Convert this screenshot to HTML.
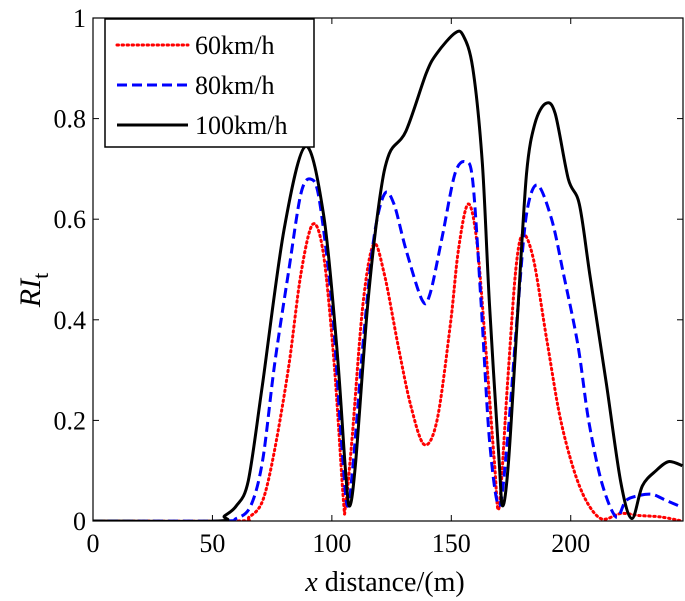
<!DOCTYPE html>
<html><head><meta charset="utf-8"><style>
body{margin:0;background:#fff;}
svg{display:block;font-family:"Liberation Serif",serif;}
</style></head><body>
<svg id="chart" width="685" height="601" viewBox="0 0 685 601"></svg>
<script>
const xTicks=[0,50,100,150,200];
const yTicks=[0,0.2,0.4,0.6,0.8,1];
const yTickLabels=["0","0.2","0.4","0.6","0.8","1"];
const seriesNames=["60km/h","80km/h","100km/h"];
const x60=[0,60,65.4,71,76,82,87,92,96.5,101,104.8,105.7,108.4,113,117.5,122,127.7,133,138.6,144,149.6,153,157,160.6,164.3,168,170,173.5,177,180,184.4,190,195.4,201,206.5,213,221,228.6,237.8,246.7];
const y60=[0,0,0.008,0.04,0.14,0.31,0.49,0.59,0.53,0.31,0.045,0.03,0.16,0.43,0.55,0.49,0.35,0.23,0.152,0.2,0.39,0.54,0.63,0.56,0.35,0.12,0.027,0.27,0.5,0.57,0.52,0.36,0.21,0.106,0.04,0.004,0.015,0.011,0.008,0];
const x80=[0,52.5,60,66,71,76,82,87,91,94.7,100,104,106.5,109,113,117.5,122,126,131,137.7,141,146,151.5,156,159,162.5,166,170,173.5,178,181.5,186,192,197,203,207.5,213,219,223,228,234,239.5,246.7];
const y80=[0,0,0.005,0.03,0.12,0.31,0.5,0.65,0.68,0.64,0.43,0.16,0.03,0.12,0.35,0.56,0.65,0.63,0.54,0.44,0.45,0.56,0.69,0.714,0.675,0.43,0.16,0.03,0.16,0.43,0.61,0.668,0.6,0.49,0.35,0.2,0.076,0.008,0.04,0.05,0.053,0.042,0.027];
const x100=[0,52,55,60,65,70.9,80,89,96.5,102,105.7,107.5,110,115,120,124,131,139.5,144,151.5,155,159,163,166,170,171.5,174,178,181.5,185,189.5,193.5,199,203.6,208,215,221,225.6,230,235.7,241,246.7];
const y100=[0,0,0.01,0.03,0.08,0.27,0.58,0.745,0.61,0.35,0.1,0.03,0.12,0.43,0.64,0.73,0.775,0.89,0.93,0.97,0.965,0.9,0.71,0.43,0.12,0.03,0.12,0.43,0.69,0.79,0.83,0.81,0.68,0.63,0.49,0.27,0.076,0.005,0.07,0.1,0.118,0.11];

const L=93,R=683,T=18,B=521,XMAX=247;
const sx=v=>L+v/XMAX*(R-L);
const sy=v=>B-v*(B-T);
const NS="http://www.w3.org/2000/svg";
const svg=document.getElementById("chart");
function mk(tag,attrs,parent){const e=document.createElementNS(NS,tag);for(const k in attrs)e.setAttribute(k,attrs[k]);(parent||svg).appendChild(e);return e;}

const clip=mk("clipPath",{id:"pc"});mk("rect",{x:L,y:T-2,width:R-L,height:B-T+2},clip);

function smoothPath(pts){
  let d="M"+pts[0][0].toFixed(1)+","+pts[0][1].toFixed(1);
  const k=0.16;
  for(let i=0;i<pts.length-1;i++){
    const p0=pts[Math.max(i-1,0)],p1=pts[i],p2=pts[i+1],p3=pts[Math.min(i+2,pts.length-1)];
    const c1=[p1[0]+(p2[0]-p0[0])*k,p1[1]+(p2[1]-p0[1])*k];
    const c2=[p2[0]-(p3[0]-p1[0])*k,p2[1]-(p3[1]-p1[1])*k];
    d+=" C"+c1.map(v=>v.toFixed(1)).join(",")+" "+c2.map(v=>v.toFixed(1)).join(",")+" "+p2.map(v=>v.toFixed(1)).join(",");
  }
  return d;
}
function series(xs,ys,color,dash,w,name,cap){
  const pts=xs.map((x,i)=>[sx(x),sy(ys[i])]);
  const e=mk("path",{d:smoothPath(pts),fill:"none",stroke:color,"stroke-width":w,"stroke-dasharray":dash,"stroke-linecap":cap,"stroke-linejoin":"round","clip-path":"url(#pc)"});
  
  
}
series(x60,y60,"#ff0000","1.5,3.5",3,"series-60kmh","round");
series(x80,y80,"#0000ff","10,5",3,"series-80kmh","butt");
series(x100,y100,"#000","",3,"series-100kmh","butt");

const ax=mk("rect",{x:L,y:T,width:R-L,height:B-T,fill:"none",stroke:"#000","stroke-width":1.2});



xTicks.forEach(v=>{
  const x=sx(v);
  mk("line",{x1:x,y1:B,x2:x,y2:B-6,stroke:"#000"});
  mk("line",{x1:x,y1:T,x2:x,y2:T+6,stroke:"#000"});
  const t=mk("text",{x:x,y:B+31,"text-anchor":"middle","font-size":26});
  t.textContent=v;
  
  
});
yTicks.forEach((v,i)=>{
  const y=sy(v);
  mk("line",{x1:L,y1:y,x2:L+6,y2:y,stroke:"#000"});
  mk("line",{x1:R,y1:y,x2:R-6,y2:y,stroke:"#000"});
  const t=mk("text",{x:L-7,y:y+9,"text-anchor":"end","font-size":26});
  t.textContent=yTickLabels[i];
  
  
});

const xl=mk("text",{x:385,y:591,"text-anchor":"middle","font-size":28});
xl.innerHTML='<tspan font-style="italic">x</tspan> distance/(m)';



const yl=mk("text",{transform:"translate(40,290) rotate(-90)","text-anchor":"middle","font-size":30});
yl.innerHTML='<tspan font-style="italic">RI</tspan><tspan font-size="22" dy="8">t</tspan>';



const lg=mk("g",{});


mk("rect",{x:105,y:19,width:209,height:128,fill:"#fff",stroke:"#000","stroke-width":1.5},lg);
const lstyle=[["#ff0000","1.5,3.5","round"],["#0000ff","10,5","butt"],["#000","","butt"]];
[45,85,125].forEach((y,i)=>{
  const g=mk("g",{},lg);
  
  
  mk("line",{x1:117,y1:y,x2:188,y2:y,stroke:lstyle[i][0],"stroke-width":3,"stroke-dasharray":lstyle[i][1],"stroke-linecap":lstyle[i][2]},g);
  const t=mk("text",{x:195,y:y+9,"font-size":26},g);
  t.textContent=seriesNames[i];
});
</script>
</body></html>
